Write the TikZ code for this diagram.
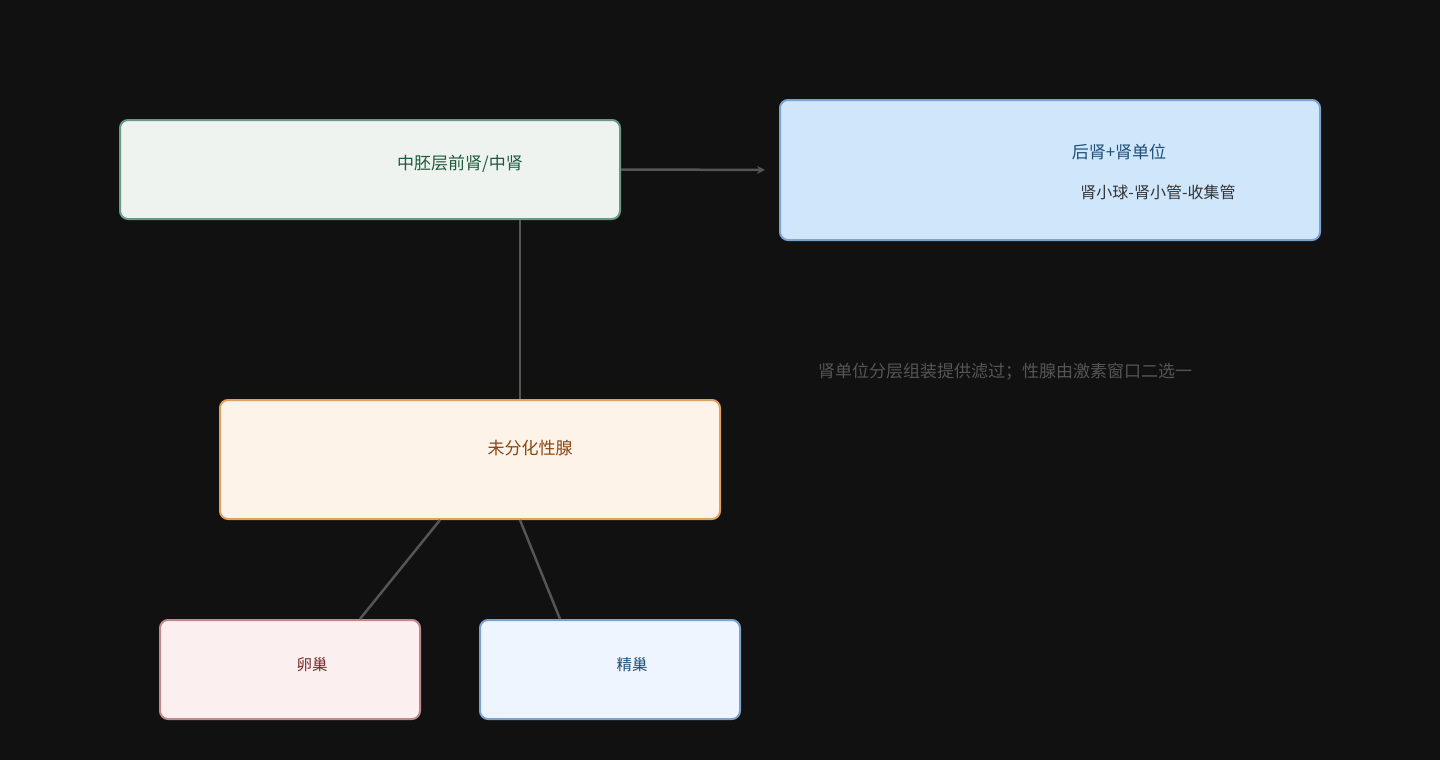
\documentclass[tikz,border=0pt]{standalone}
\usepackage{fontspec}
\setmainfont{Noto Sans CJK SC}
\usetikzlibrary{arrows.meta,positioning}
\definecolor{bgdark}{HTML}{111111}
\definecolor{linegray}{HTML}{555555}
\tikzset{
  box/.style={draw, rounded corners=8pt, line width=2pt, inner sep=0pt},
  lbl/.style={font=\fontsize{17}{20}\selectfont, inner sep=0pt},
  arrow/.style={-{Stealth[length=8pt,width=8pt]}, line width=2.5pt, draw=linegray},
  link/.style={line width=2.5pt, draw=linegray}
}
\begin{document}
\begin{tikzpicture}[x=1pt,y=-1pt]
% Background
\fill[bgdark] (0,0) rectangle (1440,760);
\useasboundingbox (0,0) rectangle (1440,760);

% Boxes
\node[box, fill=green!4!white!95!black!0, fill={rgb,255:red,238;green,243;blue,240}, draw={rgb,255:red,106;green,154;blue,133}, minimum width=500pt, minimum height=99pt] (meso) at (370,169.5) {};
\node[box, fill={rgb,255:red,208;green,230;blue,251}, draw={rgb,255:red,123;green,163;blue,204}, minimum width=540pt, minimum height=140pt] (meta) at (1050,170) {};
\node[box, fill={rgb,255:red,253;green,243;blue,232}, draw={rgb,255:red,224;green,160;blue,96}, minimum width=500pt, minimum height=119pt] (gonad) at (470,459.5) {};
\node[box, fill={rgb,255:red,252;green,239;blue,239}, draw={rgb,255:red,192;green,138;blue,138}, minimum width=260pt, minimum height=99pt] (ovary) at (290,669.5) {};
\node[box, fill={rgb,255:red,238;green,245;blue,255}, draw={rgb,255:red,123;green,163;blue,204}, minimum width=260pt, minimum height=99pt] (testis) at (610,669.5) {};

% Labels
\node[lbl, text={rgb,255:red,30;green,90;blue,58}] (mesotxt) at (460,164) {中胚层前肾/中肾};
\node[lbl, text={rgb,255:red,31;green,78;blue,122}] (metatxt) at (1119,152) {后肾+肾单位};
\node[lbl, font=\fontsize{16}{19}\selectfont, text={rgb,255:red,51;green,51;blue,51}] (metasub) at (1158,192) {肾小球-肾小管-收集管};
\node[lbl, text={rgb,255:red,139;green,69;blue,19}] (gonadtxt) at (530,448) {未分化性腺};
\node[lbl, font=\fontsize{15.5}{18}\selectfont, text={rgb,255:red,122;green,42;blue,42}] (ovarytxt) at (312,665) {卵巢};
\node[lbl, font=\fontsize{15.5}{18}\selectfont, text={rgb,255:red,31;green,78;blue,122}] (testistxt) at (632,665) {精巢};
\node[lbl, text=linegray] (note) at (1005,372) {肾单位分层组装提供滤过；性腺由激素窗口二选一};

% Connectors
\draw[arrow, shorten >=14pt] (meso.east) -- (meta.west);
\draw[link] (meso.south -| 520,0) -- (gonad.north -| 520,0);
\draw[link] (gonad.south -| 440,0) -- (ovary.north -| 360,0);
\draw[link] (gonad.south -| 520,0) -- (testis.north -| 560,0);
\end{tikzpicture}
\end{document}
